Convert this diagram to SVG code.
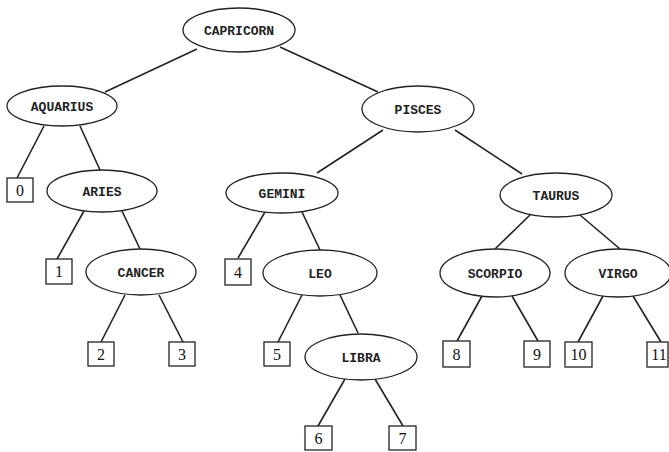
<svg xmlns="http://www.w3.org/2000/svg" width="669" height="452" viewBox="0 0 669 452">
<style>
.n ellipse{fill:#fff;stroke:#222;stroke-width:1.3}
.n rect{fill:#fff;stroke:#222;stroke-width:1.3}
.n text.l{font-family:"Liberation Mono",monospace;font-size:13px;font-weight:bold;fill:#222;text-anchor:middle}
.n text.d{font-family:"Liberation Serif",serif;font-size:16px;fill:#111;text-anchor:middle}
#edges line{stroke:#222;stroke-width:1.6}
</style>
<rect width="669" height="452" fill="#fff"/>
<g id="edges">
<line x1="197" y1="49" x2="105" y2="92"/>
<line x1="280" y1="47" x2="378" y2="92"/>
<line x1="44" y1="126" x2="17" y2="178"/>
<line x1="80" y1="126" x2="100" y2="170"/>
<line x1="84" y1="211" x2="57" y2="259"/>
<line x1="122" y1="211" x2="140" y2="249"/>
<line x1="125" y1="295" x2="101" y2="342"/>
<line x1="159" y1="295" x2="183" y2="342"/>
<line x1="383" y1="130" x2="317" y2="173"/>
<line x1="455" y1="130" x2="522" y2="174"/>
<line x1="265" y1="212" x2="238" y2="258"/>
<line x1="302" y1="212" x2="320" y2="250"/>
<line x1="302" y1="295" x2="278" y2="342"/>
<line x1="340" y1="295" x2="358" y2="333"/>
<line x1="345" y1="379" x2="318" y2="426"/>
<line x1="375" y1="379" x2="403" y2="426"/>
<line x1="530" y1="215" x2="495" y2="249"/>
<line x1="580" y1="215" x2="620" y2="249"/>
<line x1="482" y1="296" x2="457" y2="341"/>
<line x1="512" y1="296" x2="538" y2="341"/>
<line x1="603" y1="296" x2="578" y2="342"/>
<line x1="633" y1="296" x2="661" y2="342"/>
</g>
<g id="capricorn" class="n"><ellipse cx="239" cy="30" rx="56" ry="22"/><text class="l" x="239" y="35">CAPRICORN</text></g>
<g id="aquarius" class="n"><ellipse cx="62" cy="106" rx="55" ry="20"/><text class="l" x="62" y="111">AQUARIUS</text></g>
<g id="pisces" class="n"><ellipse cx="418" cy="109" rx="56" ry="23"/><text class="l" x="418" y="114">PISCES</text></g>
<g id="aries" class="n"><ellipse cx="102" cy="191" rx="55" ry="21"/><text class="l" x="102" y="196">ARIES</text></g>
<g id="cancer" class="n"><ellipse cx="141" cy="272" rx="55" ry="23"/><text class="l" x="141" y="277">CANCER</text></g>
<g id="gemini" class="n"><ellipse cx="282" cy="193" rx="56" ry="20"/><text class="l" x="282" y="198">GEMINI</text></g>
<g id="leo" class="n"><ellipse cx="320" cy="273" rx="57" ry="23"/><text class="l" x="320" y="278">LEO</text></g>
<g id="libra" class="n"><ellipse cx="361" cy="357" rx="56" ry="23"/><text class="l" x="361" y="362">LIBRA</text></g>
<g id="taurus" class="n"><ellipse cx="556" cy="195" rx="56" ry="22"/><text class="l" x="556" y="200">TAURUS</text></g>
<g id="scorpio" class="n"><ellipse cx="495" cy="273" rx="55" ry="24"/><text class="l" x="495" y="278">SCORPIO</text></g>
<g id="virgo" class="n"><ellipse cx="618" cy="273" rx="53" ry="24"/><text class="l" x="618" y="278">VIRGO</text></g>
<g id="leaf0" class="n"><rect x="7" y="178" width="26" height="24"/><text class="d" x="20" y="196">0</text></g>
<g id="leaf1" class="n"><rect x="46" y="259" width="26" height="25"/><text class="d" x="59" y="277">1</text></g>
<g id="leaf2" class="n"><rect x="88" y="342" width="26" height="24"/><text class="d" x="101" y="360">2</text></g>
<g id="leaf3" class="n"><rect x="169" y="342" width="26" height="24"/><text class="d" x="182" y="360">3</text></g>
<g id="leaf4" class="n"><rect x="225" y="259" width="26" height="26"/><text class="d" x="238" y="278">4</text></g>
<g id="leaf5" class="n"><rect x="264" y="342" width="26" height="24"/><text class="d" x="277" y="360">5</text></g>
<g id="leaf6" class="n"><rect x="305" y="426" width="27" height="24"/><text class="d" x="318.5" y="444">6</text></g>
<g id="leaf7" class="n"><rect x="389" y="426" width="27" height="24"/><text class="d" x="402.5" y="444">7</text></g>
<g id="leaf8" class="n"><rect x="443" y="341" width="27" height="26"/><text class="d" x="456.5" y="360">8</text></g>
<g id="leaf9" class="n"><rect x="524" y="341" width="26" height="26"/><text class="d" x="537" y="360">9</text></g>
<g id="leaf10" class="n"><rect x="565" y="342" width="27" height="25"/><text class="d" x="578.5" y="360">10</text></g>
<g id="leaf11" class="n"><rect x="647" y="342" width="21" height="25"/><text class="d" x="659" y="360">11</text></g>
</svg>
